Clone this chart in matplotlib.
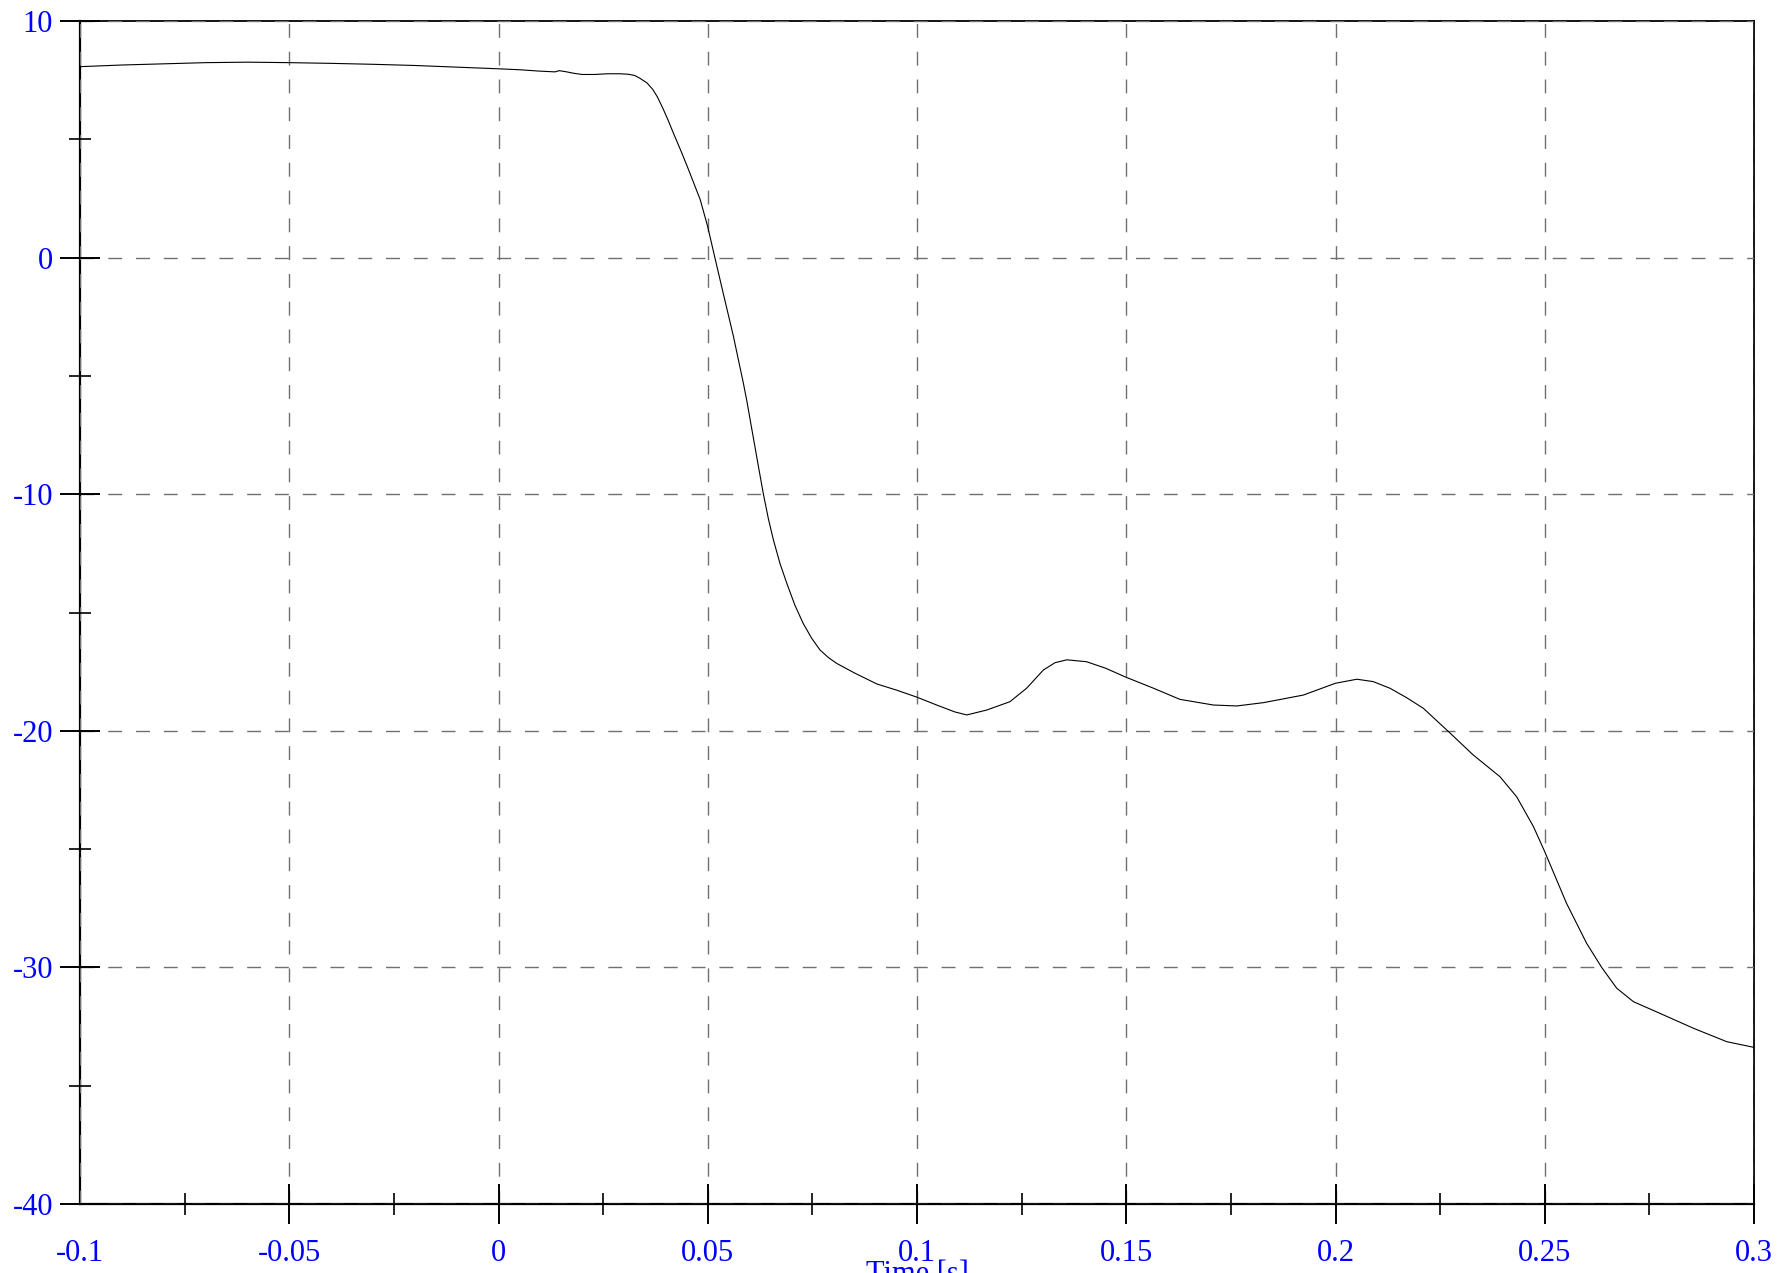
import matplotlib
matplotlib.use("Agg")
import matplotlib.pyplot as plt
from matplotlib.ticker import MultipleLocator

# Measured signal versus time
time_s = [
    -0.100, -0.090, -0.080, -0.070, -0.060, -0.050, -0.040, -0.030, -0.020, -0.010,
    0.000, 0.005, 0.010, 0.0135, 0.0145, 0.016, 0.018, 0.020, 0.023, 0.026,
    0.029, 0.031, 0.0325, 0.0338, 0.0355, 0.0369, 0.0380, 0.0393, 0.0405, 0.0417,
    0.0435, 0.045, 0.0482, 0.050, 0.0517, 0.0537, 0.0561, 0.0585, 0.0593, 0.0609,
    0.0621, 0.0633, 0.0645, 0.0657, 0.0673, 0.0689, 0.0708, 0.0728, 0.0748, 0.0768,
    0.0788, 0.0808, 0.0850, 0.0904, 0.0951, 0.100, 0.1047, 0.1090, 0.1119, 0.1167,
    0.1222, 0.1262, 0.1302, 0.1330, 0.1358, 0.1405, 0.1450, 0.150, 0.1565, 0.1628,
    0.1708, 0.1764, 0.1828, 0.1923, 0.200, 0.2051, 0.2090, 0.2130, 0.2170, 0.2210,
    0.2274, 0.2329, 0.2393, 0.2433, 0.2473, 0.250, 0.2552, 0.260, 0.2636, 0.2672,
    0.2712, 0.2775, 0.2855, 0.2935, 0.300,
]
signal = [
    8.07, 8.14, 8.19, 8.24, 8.26, 8.24, 8.21, 8.17, 8.12, 8.05,
    7.98, 7.94, 7.88, 7.85, 7.90, 7.86, 7.79, 7.74, 7.74, 7.77,
    7.77, 7.75, 7.70, 7.58, 7.38, 7.10, 6.78, 6.30, 5.82, 5.30,
    4.55, 3.90, 2.45, 1.30, 0.00, -1.51, -3.30, -5.30, -6.02, -7.62,
    -8.82, -10.00, -11.05, -11.94, -12.95, -13.77, -14.68, -15.46, -16.08, -16.58,
    -16.90, -17.15, -17.55, -18.02, -18.28, -18.58, -18.91, -19.20, -19.33, -19.12,
    -18.77, -18.20, -17.43, -17.12, -17.00, -17.08, -17.35, -17.74, -18.20, -18.67,
    -18.91, -18.95, -18.81, -18.49, -17.99, -17.82, -17.92, -18.20, -18.60, -19.05,
    -20.10, -21.02, -21.94, -22.79, -24.05, -25.11, -27.29, -28.98, -30.00, -30.88,
    -31.45, -31.94, -32.57, -33.14, -33.38,
]

x_ticks = [-0.1, -0.05, 0, 0.05, 0.1, 0.15, 0.2, 0.25, 0.3]
x_tick_labels = ["-0.1", "-0.05", "0", "0.05", "0.1", "0.15", "0.2", "0.25", "0.3"]
y_ticks = [-40, -30, -20, -10, 0, 10]
y_tick_labels = ["-40", "-30", "-20", "-10", "0", "10"]

plt.rcParams["font.family"] = ["Liberation Serif", "DejaVu Serif"]

fig = plt.figure(figsize=(17.81, 12.73), dpi=100)
ax = fig.add_axes([0.04492, 0.05420, 0.93992, 0.92930])

ax.plot(time_s, signal, color="black", lw=0.8, zorder=3)

ax.set_xlim(-0.1, 0.3)
ax.set_ylim(-40, 10)

ax.set_xticks(x_ticks)
ax.set_xticklabels(x_tick_labels)
ax.set_yticks(y_ticks)
ax.set_yticklabels(y_tick_labels)
ax.xaxis.set_minor_locator(MultipleLocator(0.025))
ax.yaxis.set_minor_locator(MultipleLocator(5))

ax.tick_params(axis="both", which="major", direction="inout", length=29,
               width=1.4, labelsize=22, labelcolor="#0000ff",
               top=False, right=False)
ax.tick_params(axis="x", which="major", pad=11)
ax.tick_params(axis="y", which="major", pad=5)
ax.tick_params(axis="both", which="minor", direction="inout", length=16,
               width=1.2, top=False, right=False)

# the first x tick sits on the left spine; leave it out
ax.xaxis.get_major_ticks()[0].tick1line.set_visible(False)

for side in ("left", "bottom"):
    ax.spines[side].set_linewidth(1.6)
for side in ("top", "right"):
    ax.spines[side].set_linewidth(1.3)

ax.grid(True, which="major", color="#707070", lw=1.0,
        linestyle=(0, (10, 10)))
ax.set_axisbelow(False)

ax.set_xlabel("Time [s]", fontsize=22, color="#0000ff", labelpad=-6)

fig.savefig("out.png", dpi=100, facecolor="white")
